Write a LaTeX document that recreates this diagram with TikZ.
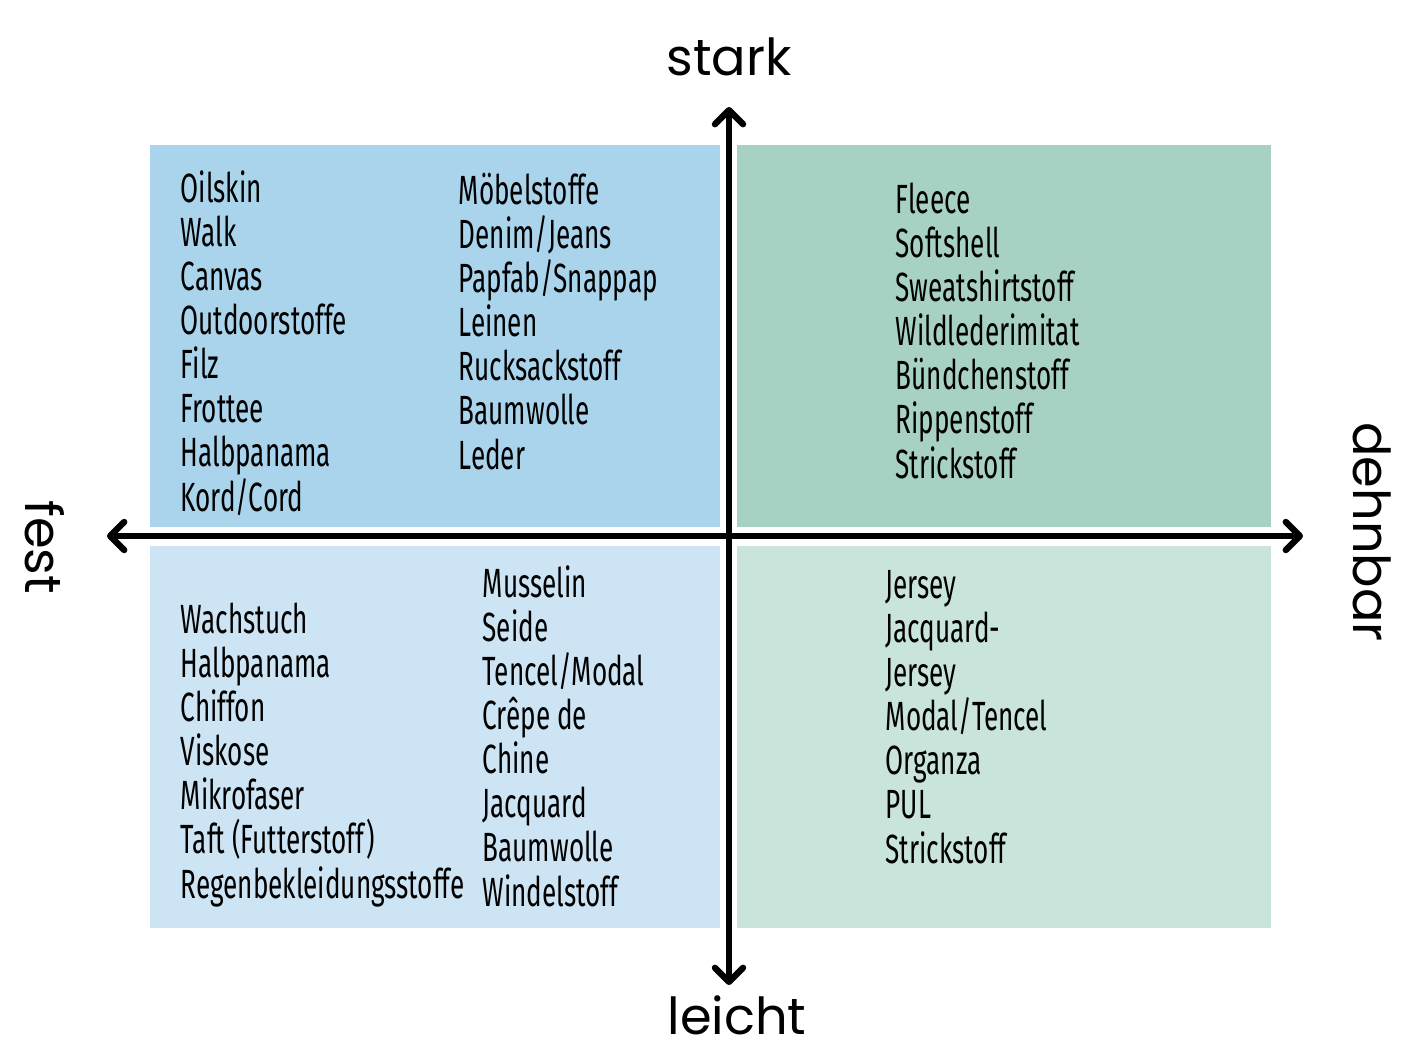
\documentclass[tikz,border=0pt]{standalone}
\usepackage{fontspec}
\setmainfont{Poppins}
\newfontfamily\handfont[FakeStretch=0.64]{Fira Sans}
\usetikzlibrary{arrows.meta,positioning}

\definecolor{starkfest}{HTML}{A9D4EC}
\definecolor{starkdehn}{HTML}{A7D2C3}
\definecolor{leichtfest}{HTML}{CCE4F3}
\definecolor{leichtdehn}{HTML}{C9E4DA}

\begin{document}
\begin{tikzpicture}[x=0.01cm,y=-0.01cm,node distance=0.25cm]
       \tikzstyle{fabrics}=[font=\handfont\fontsize{11.6}{12.52}\selectfont, align=left, anchor=base west, inner sep=0pt]
       \tikzstyle{axislabel}=[font=\fontsize{14.5}{17}\selectfont, inner sep=0pt]
       \tikzstyle{axis}=[line width=1.8pt, line cap=round, line join=round]

       \useasboundingbox (0,0) rectangle (1416,1060);

       % quadrants
       \fill[starkfest] (150,145) rectangle (720,527);
       \fill[starkdehn] (737,145) rectangle (1271,527);
       \fill[leichtfest] (150,546) rectangle (720,928);
       \fill[leichtdehn] (737,546) rectangle (1271,928);

       % axes
       \coordinate (N) at (729,107);
       \coordinate (S) at (729,985);
       \coordinate (W) at (107,536);
       \coordinate (E) at (1303,536);
       \draw[axis, {Straight Barb[round,length=4pt,width=8pt]}-{Straight Barb[round,length=4pt,width=8pt]}] (W) -- (E);
       \draw[axis, -{Straight Barb[round,length=4pt,width=8pt]}] (S |- E) -- (N);
       \draw[axis, -{Straight Barb[round,length=4pt,width=8pt]}] (N |- E) -- (S);

       \node[axislabel] (stark) [above=0.3cm of N] {stark};
       \node[axislabel] (leicht) [below=0.1cm of S, xshift=2.3pt] {leicht};
       \node[axislabel, rotate=-90] (fest) at (45,547) {fest};
       \node[axislabel, rotate=-90] (dehnbar) at (1372,532) {dehnbar};

       % fabric lists (anchored at the baseline of the last line)
       \node[fabrics] (tl1) at (180,511) {Oilskin\\Walk\\Canvas\\Outdoorstoffe\\Filz\\Frottee\\Halbpanama\\Kord/Cord};
       \node[fabrics] (tl2) at (458,469) {Möbelstoffe\\Denim/Jeans\\Papfab/Snappap\\Leinen\\Rucksackstoff\\Baumwolle\\Leder};
       \node[fabrics] (tr) at (895,478) {Fleece\\Softshell\\Sweatshirtstoff\\Wildlederimitat\\Bündchenstoff\\Rippenstoff\\Strickstoff};
       \node[fabrics] (bl1) at (180,898) {Wachstuch\\Halbpanama\\Chiffon\\Viskose\\Mikrofaser\\Taft (Futterstoff)\\Regenbekleidungsstoffe};
       \node[fabrics] (bl2) at (482,906) {Musselin\\Seide\\Tencel/Modal\\Crêpe de\\Chine\\Jacquard\\Baumwolle\\Windelstoff};
       \node[fabrics] (br) at (885,863) {Jersey\\Jacquard-\\Jersey\\Modal/Tencel\\Organza\\PUL\\Strickstoff};
\end{tikzpicture}
\end{document}
